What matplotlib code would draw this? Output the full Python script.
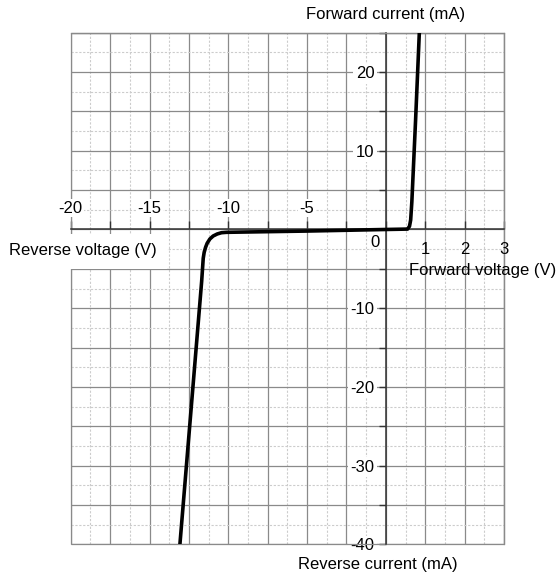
import numpy as np
import matplotlib
matplotlib.use("Agg")
import matplotlib.pyplot as plt
from matplotlib.patches import Rectangle

plt.rcParams["font.family"] = ["Liberation Sans", "DejaVu Sans"]
plt.rcParams["font.size"] = 12

# Diode characteristic: voltage (V) and current (mA)
volts = [-13.07, -11.69, -11.59, -11.53, -11.44, -11.34, -11.17, -10.96,
         -10.70, -10.43, -10.11, -5.0, 0.0, 0.55, 0.60, 0.63, 0.66, 0.755, 0.85]
current = [-40.0, -6.6, -3.66, -2.90, -2.26, -1.75, -1.21, -0.83,
           -0.57, -0.41, -0.36, -0.2, 0.0, 0.05, 0.4, 1.2, 3.5, 13.9, 25.0]

# Axis ticks and labels
x_major = [-20, -17.5, -15, -12.5, -10, -7.5, -5, -2.5, 0, 1, 2, 3]
x_minor = [-18.75, -16.25, -13.75, -11.25, -8.75, -6.25, -3.75, -1.25, 0.5, 1.5, 2.5]
rev_v_labels = [-20, -15, -10, -5]
fwd_v_labels = [1, 2, 3]
y_major = list(range(-40, 26, 5))
y_minor = [v + 2.5 for v in range(-40, 25, 5)]
y_labels = [20, 10, -10, -20, -30, -40]

# Reverse side drawn at 1 unit per volt, forward side stretched 2.5x
def fwd(x):
    x = np.asarray(x, dtype=float)
    return np.where(x < 0, x, 2.5 * x)

def inv(t):
    t = np.asarray(t, dtype=float)
    return np.where(t < 0, t, t / 2.5)

fig = plt.figure(figsize=(5.56, 5.75), dpi=100)
ax = fig.add_axes([0.1272, 0.0534, 0.7793, 0.8897])
ax.set_xscale("function", functions=(fwd, inv))
ax.set_xlim(-20, 3)
ax.set_ylim(-40, 25)

ax.set_xticks(x_major)
ax.set_xticks(x_minor, minor=True)
ax.set_yticks(y_major)
ax.set_yticks(y_minor, minor=True)
ax.set_yticklabels([str(v) if v in y_labels else "" for v in y_major])

grid_major = "#8a8a8a"
ax.set_axisbelow(True)
ax.grid(which="major", color=grid_major, lw=0.9)
ax.grid(which="minor", color="#cccccc", lw=0.8, ls=(0, (2, 1.5)))

# Axes crossing at the origin
for side in ("left", "bottom"):
    ax.spines[side].set_position(("data", 0))
    ax.spines[side].set_color("#333333")
    ax.spines[side].set_linewidth(1.1)
for side in ("top", "right"):
    ax.spines[side].set_color(grid_major)
    ax.spines[side].set_linewidth(0.9)
ax.add_patch(Rectangle((0, 0), 1, 1, transform=ax.transAxes, fill=False,
                       ec=grid_major, lw=0.9, zorder=0.6, clip_on=False))

ax.tick_params(axis="x", which="major", direction="in", length=5.8,
               width=1.0, color="#333333", labelbottom=False)
ax.tick_params(axis="y", which="major", direction="out", length=5,
               width=1.0, color="#333333", pad=3.2, labelsize=12)
ax.tick_params(which="minor", length=0)
for lab in ax.get_yticklabels():
    lab.set_bbox(dict(boxstyle="square,pad=0.15", fc="white", ec="none"))

# Voltage tick labels: reverse above the axis, forward below
for v in rev_v_labels:
    ax.annotate(str(v), xy=(v, 0), xytext=(0, 12.1), textcoords="offset points",
                ha="center", va="baseline", fontsize=12,
                bbox=dict(boxstyle="square,pad=0.1", fc="white", ec="none"))
for v in fwd_v_labels:
    ax.annotate(str(v), xy=(v, 0), xytext=(0, -17.9), textcoords="offset points",
                ha="center", va="baseline", fontsize=12)
ax.annotate("0", xy=(0, 0), xytext=(-7.9, -12.8), textcoords="offset points",
            ha="center", va="baseline", fontsize=12)

ax.plot(volts, current, color="black", lw=2.6, solid_joinstyle="round", zorder=3)

# Axis titles
fig.text(386 / 556, 1 - 14 / 575, "Forward current (mA)", ha="center", va="center",
         fontsize=12)
fig.text(298.3 / 556, 1 - 565 / 575, "Reverse current (mA)", ha="left", va="center",
         fontsize=12)
fig.text(9.3 / 556, 1 - 251 / 575, "Reverse voltage (V)", ha="left", va="center",
         fontsize=12,
         bbox=dict(boxstyle="square,pad=0.6", fc="white", ec="none"))
fig.text(409.3 / 556, 1 - 270.5 / 575, "Forward voltage (V)", ha="left", va="center",
         fontsize=12)

fig.savefig("out.png", dpi=100)
